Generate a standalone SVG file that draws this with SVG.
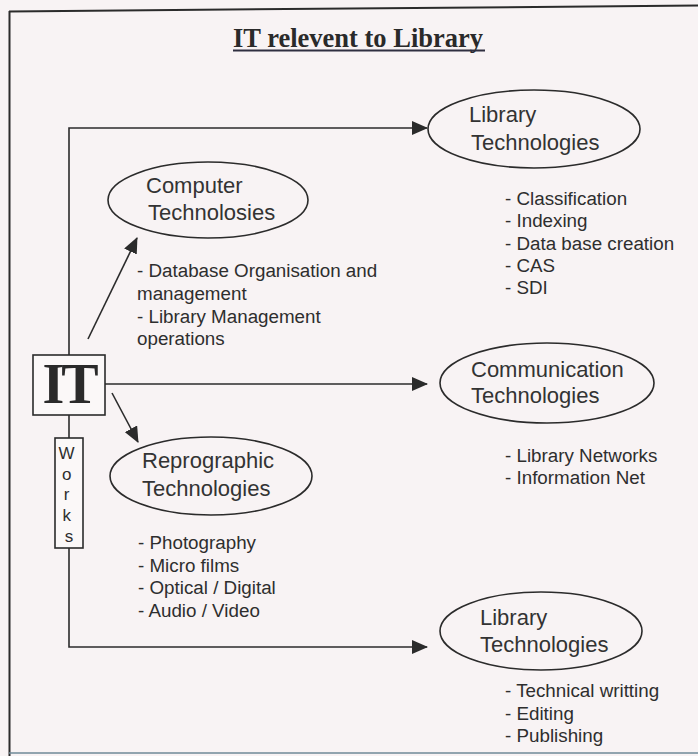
<svg xmlns="http://www.w3.org/2000/svg" width="698" height="756" viewBox="0 0 698 756">
  <style>
    .bg { fill: #f8f3f4; }
    .frame { fill: none; stroke: #2b2b2b; stroke-width: 2; }
    .line { fill: none; stroke: #2b2b2b; stroke-width: 1.6; }
    .oval { fill: none; stroke: #2b2b2b; stroke-width: 1.6; }
    .box { fill: #fbf8f8; stroke: #2b2b2b; stroke-width: 1.6; }
    .label { font-family: "Liberation Sans", Arial, sans-serif; font-size: 22px; fill: #333; }
    .item { font-family: "Liberation Sans", Arial, sans-serif; font-size: 18.8px; fill: #2e2e2e; }
    .title { font-family: "Liberation Serif", "Times New Roman", serif; font-size: 26.5px; font-weight: bold; fill: #2a2a2a; }
    .big { font-family: "Liberation Serif", "Times New Roman", serif; font-size: 56px; font-weight: bold; fill: #2a2a2a; }
    .works { font-family: "Liberation Sans", Arial, sans-serif; font-size: 17px; fill: #2e2e2e; }
  </style>
  <defs>
    <marker id="head" markerUnits="userSpaceOnUse" markerWidth="16" markerHeight="14" refX="15" refY="7" orient="auto">
      <path d="M0,0 L16,7 L0,14 Z" fill="#2b2b2b"/>
    </marker>
  </defs>

  <rect class="bg" x="0" y="0" width="698" height="756"/>

  <!-- page frame -->
  <g id="page-frame">
    <path class="frame" d="M9,11.5 L698,5.5"/>
    <path class="frame" d="M9.5,11 L9.5,756"/>
    <path d="M9,753 L698,753" fill="none" stroke="#6f8a98" stroke-width="1.5"/>
  </g>

  <!-- heading -->
  <g id="title">
    <text class="title" x="233" y="47">IT relevent to Library</text>
    <path d="M233,50.5 L485,50.5" fill="none" stroke="#2f2f40" stroke-width="2"/>
  </g>

  <!-- connectors -->
  <g id="connectors">
    <path class="line" d="M69,355 L69,128 L427,128" marker-end="url(#head)"/>
    <path class="line" d="M69,415 L69,438"/>
    <path class="line" d="M69,548 L69,647 L427,647" marker-end="url(#head)"/>
    <path class="line" d="M105,384 L427,384" marker-end="url(#head)"/>
    <path class="line" d="M88,339 L137,238" marker-end="url(#head)"/>
    <path class="line" d="M112,393 L138,442" marker-end="url(#head)"/>
  </g>

  <!-- IT hub -->
  <g id="it">
    <rect class="box" x="33" y="355" width="72" height="60"/>
    <text class="big" x="69" y="403" text-anchor="middle" letter-spacing="-3">IT</text>
  </g>

  <!-- Works label -->
  <g id="works">
    <rect class="box" x="55" y="438" width="28" height="110"/>
    <text class="works" x="69" text-anchor="middle">
      <tspan x="69" y="459">W</tspan>
      <tspan x="69" y="480">o</tspan>
      <tspan x="69" y="500">r</tspan>
      <tspan x="69" y="521">k</tspan>
      <tspan x="69" y="542">s</tspan>
    </text>
  </g>

  <!-- Computer Technologies -->
  <g id="computer">
    <ellipse class="oval" cx="208" cy="200" rx="100" ry="38"/>
    <text class="label" x="146" y="193">Computer</text>
    <text class="label" x="148" y="220">Technolosies</text>
    <text class="item" x="137" y="277">- Database Organisation and</text>
    <text class="item" x="137" y="300">management</text>
    <text class="item" x="137" y="323">- Library Management</text>
    <text class="item" x="137" y="345">operations</text>
  </g>

  <!-- Library Technologies (upper) -->
  <g id="library-upper">
    <ellipse class="oval" cx="534" cy="129" rx="106" ry="39"/>
    <text class="label" x="469" y="122">Library</text>
    <text class="label" x="471" y="150">Technologies</text>
    <text class="item" x="505" y="205">- Classification</text>
    <text class="item" x="505" y="227">- Indexing</text>
    <text class="item" x="505" y="250">- Data base creation</text>
    <text class="item" x="505" y="272">- CAS</text>
    <text class="item" x="505" y="294">- SDI</text>
  </g>

  <!-- Communication Technologies -->
  <g id="communication">
    <ellipse class="oval" cx="547" cy="383" rx="107" ry="40"/>
    <text class="label" x="471" y="377">Communication</text>
    <text class="label" x="471" y="403">Technologies</text>
    <text class="item" x="505" y="462">- Library Networks</text>
    <text class="item" x="505" y="484">- Information Net</text>
  </g>

  <!-- Reprographic Technologies -->
  <g id="reprographic">
    <ellipse class="oval" cx="211" cy="476" rx="101" ry="39"/>
    <text class="label" x="142" y="468">Reprographic</text>
    <text class="label" x="142" y="496">Technologies</text>
    <text class="item" x="138" y="549">- Photography</text>
    <text class="item" x="138" y="572">- Micro films</text>
    <text class="item" x="138" y="594">- Optical / Digital</text>
    <text class="item" x="138" y="617">- Audio / Video</text>
  </g>

  <!-- Library Technologies (lower) -->
  <g id="library-lower">
    <ellipse class="oval" cx="541" cy="631" rx="101" ry="39"/>
    <text class="label" x="480" y="625">Library</text>
    <text class="label" x="480" y="652">Technologies</text>
    <text class="item" x="505" y="697">- Technical writting</text>
    <text class="item" x="505" y="720">- Editing</text>
    <text class="item" x="505" y="742">- Publishing</text>
  </g>
</svg>
